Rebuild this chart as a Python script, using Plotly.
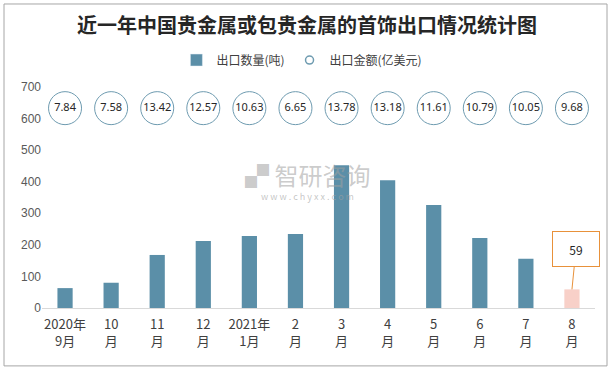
import plotly.graph_objects as go

categories = ["2020年<br>9月", "10<br>月", "11<br>月", "12<br>月", "2021年<br>1月", "2<br>月",
              "3<br>月", "4<br>月", "5<br>月", "6<br>月", "7<br>月", "8<br>月"]
export_volume = [63, 80, 168, 212, 228, 234, 452, 405, 326, 222, 156, 59]
export_value = [7.84, 7.58, 13.42, 12.57, 10.63, 6.65, 13.78, 13.18, 11.61, 10.79, 10.05, 9.68]
label_row = [633] * len(categories)

bar_colors = ["#5B8FA8"] * (len(categories) - 1) + ["#F8D0C8"]

fig = go.Figure()
fig.add_trace(go.Bar(
    x=categories, y=export_volume, name="出口数量(吨)",
    marker=dict(color=bar_colors, line=dict(width=0)),
    showlegend=False,
))
# legend proxies
fig.add_trace(go.Bar(x=[None], y=[None], name="出口数量(吨)", marker_color="#5B8FA8"))
fig.add_trace(go.Scatter(
    x=categories, y=label_row, mode="markers+text", name="出口金额(亿美元)",
    text=[f"{v:.2f}" for v in export_value], textposition="middle center",
    textfont=dict(size=11, color="#262626", family="Noto Sans, Liberation Sans, sans-serif"),
    marker=dict(size=33, color="white", line=dict(color="#6E9BB0", width=1)),
    showlegend=False,
))
fig.add_trace(go.Scatter(x=[None], y=[None], mode="markers", name="出口金额(亿美元)",
                         marker=dict(size=8, color="white", line=dict(color="#6E9BB0", width=1.5))))

fig.add_annotation(
    x=categories[-1], y=export_volume[-1], text=str(export_volume[-1]),
    showarrow=True, arrowhead=0, arrowwidth=1, arrowcolor="#E8913A",
    ax=4, ay=-40, bordercolor="#E8913A", borderwidth=1, borderpad=4,
    bgcolor="white", width=38, height=26, font=dict(size=12, color="#262626"),
)

# watermark
fig.add_annotation(xref="paper", yref="paper", x=0.48, y=0.605, text="▞ 智研咨询",
                   showarrow=False, font=dict(size=24, color="rgba(160,160,160,0.55)",
                                              family="Noto Sans CJK SC"))
fig.add_annotation(xref="paper", yref="paper", x=0.48, y=0.505, text="w w w . c h y x x . c o m",
                   showarrow=False, font=dict(size=9, color="rgba(160,160,160,0.6)"))

fig.update_layout(
    width=614, height=370,
    margin=dict(l=42, r=19, t=87, b=62, autoexpand=False),
    paper_bgcolor="white", plot_bgcolor="white",
    title=dict(text="<b>近一年中国贵金属或包贵金属的首饰出口情况统计图</b>", x=0.5, y=0.93,
               xanchor="center", yanchor="middle",
               font=dict(size=20, color="#262626", family="Noto Sans CJK SC")),
    legend=dict(orientation="h", x=0.47, xanchor="center", y=1.122, yanchor="middle",
                font=dict(size=12, color="#404040", family="Noto Sans CJK SC"),
                itemwidth=30, traceorder="normal"),
    barmode="overlay",
    bargap=0.67,
    font=dict(family="Noto Sans CJK SC, Noto Sans, sans-serif"),
    xaxis=dict(range=[-0.5, len(categories) - 0.5], showline=True, linecolor="#D9D9D9",
               ticks="", showgrid=False, automargin=False, ticklabelstandoff=4,
               tickfont=dict(size=13, color="#404040")),
    yaxis=dict(range=[0, 700], dtick=100, showgrid=False, zeroline=False, showline=False,
               automargin=False,
               tickfont=dict(size=12, color="#595959", family="Liberation Sans, sans-serif")),
    shapes=[dict(type="rect", xref="paper", yref="paper",
                 x0=-0.0687, x1=1.0217, y0=-0.262, y1=1.3756,
                 line=dict(color="#A6A6A6", width=1))],
)

fig.write_html("out.html", config={"displayModeBar": False},
               post_script="document.body.style.margin='0';document.body.style.padding='0';")
